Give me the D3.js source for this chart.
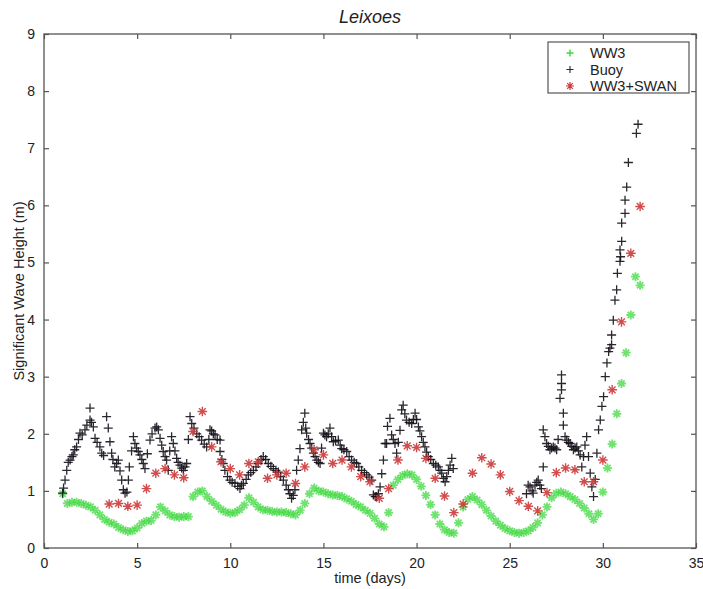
<!DOCTYPE html>
<html>
<head>
<meta charset="utf-8">
<script src="https://cdn.jsdelivr.net/npm/d3@7"></script>
<style>
  body { margin: 0; background: #fff; }
  svg text { font-family: "Liberation Sans", Arial, sans-serif; fill: #222; }
</style>
</head>
<body>
<div class="graph"></div>
<script>
// WW3 model, one value every 6 hours from day 1 to day 32
const ww3Days = d3.range(1, 32.01, 0.25);
const ww3Hs = [
  0.95, 0.78, 0.80, 0.80, 0.78, 0.75, 0.72, 0.66, 0.58, 0.50, 0.45, 0.42,
  0.36, 0.32, 0.29, 0.30, 0.35, 0.43, 0.47, 0.48, 0.58, 0.72, 0.65, 0.58,
  0.55, 0.54, 0.55, 0.55, 0.90, 0.98, 1.00, 0.90, 0.82, 0.75, 0.68, 0.63,
  0.61, 0.62, 0.67, 0.75, 0.88, 0.80, 0.72, 0.67, 0.66, 0.64, 0.63, 0.63,
  0.62, 0.60, 0.58, 0.66, 0.78, 0.95, 1.05, 1.00, 0.98, 0.95, 0.93, 0.92,
  0.90, 0.86, 0.82, 0.76, 0.72, 0.66, 0.61, 0.52, 0.42, 0.37, 0.62, 1.10,
  1.20, 1.27, 1.30, 1.28, 1.20, 1.08, 0.92, 0.76, 0.58, 0.42, 0.32, 0.27,
  0.26, 0.44, 0.72, 0.85, 0.90, 0.84, 0.76, 0.66, 0.56, 0.47, 0.40, 0.34,
  0.30, 0.27, 0.26, 0.27, 0.30, 0.36, 0.44, 0.58, 0.72, 0.88, 0.96, 0.98,
  0.95, 0.90, 0.85, 0.78, 0.70, 0.60, 0.50, 0.60, 0.98, 1.40, 1.82, 2.35,
  2.88, 3.42, 4.08, 4.75, 4.60
];

// WW3+SWAN, every 12 hours
const swanDays = d3.range(3.5, 32.01, 0.5);
const swanHs = [
  0.77, 0.78, 0.73, 0.75, 1.04, 1.31, 1.39, 1.28, 1.23, 2.04, 2.39, 1.77,
  1.51, 1.39, 1.28, 1.48, 1.51, 1.22, 1.28, 1.31, 1.13, 1.42, 1.72, 1.63,
  1.48, 1.54, 1.42, 1.25, 1.16, 0.87, 1.04, 1.54, 1.79, 1.76, 1.57, 1.22,
  0.91, 0.62, 0.77, 1.31, 1.58, 1.47, 1.28, 0.99, 0.83, 0.73, 0.65, 0.97,
  1.32, 1.40, 1.37, 1.16, 1.16, 1.54, 2.77, 3.96, 5.16, 5.98
];

// Buoy record (irregular, gap between day 22 and 26)
const buoyDays = [
  1.00, 1.05, 1.13, 1.22, 1.30, 1.40, 1.50, 1.57, 1.65, 1.75, 1.85, 1.93, 2.05, 2.20, 2.30, 2.47, 2.47, 2.55, 2.65, 2.74,
  2.85, 3.00, 3.10, 3.20, 3.36, 3.45, 3.54, 3.63, 3.70, 3.80, 3.90, 3.99, 4.08, 4.17, 4.26, 4.35, 4.45, 4.53, 4.58, 4.70,
  4.80, 4.88, 4.97, 5.06, 5.15, 5.25, 5.33, 5.42, 5.55, 5.69, 5.80, 5.96, 6.05, 6.14, 6.23, 6.32, 6.40, 6.50, 6.58, 6.67,
  6.75, 6.85, 6.94, 7.03, 7.12, 7.20, 7.30, 7.39, 7.48, 7.57, 7.66, 7.75, 7.84, 7.93, 8.05, 8.20, 8.33, 8.46, 8.60, 8.73,
  8.85, 8.91, 9.00, 9.09, 9.18, 9.30, 9.45, 9.45, 9.55, 9.62, 9.71, 9.85, 9.98, 10.10, 10.25, 10.40, 10.52, 10.60, 10.70, 10.85,
  10.97, 11.10, 11.24, 11.38, 11.50, 11.65, 11.77, 11.90, 12.04, 12.18, 12.31, 12.45, 12.58, 12.70, 12.85, 13.00, 13.12, 13.20, 13.29, 13.38,
  13.47, 13.56, 13.65, 13.74, 13.83, 13.92, 14.00, 14.05, 14.10, 14.20, 14.28, 14.37, 14.46, 14.55, 14.64, 14.73, 14.82, 14.90, 15.00, 15.08,
  15.17, 15.26, 15.35, 15.44, 15.53, 15.65, 15.80, 15.90, 15.98, 16.10, 16.25, 16.38, 16.51, 16.65, 16.78, 16.90, 17.05, 17.20, 17.32, 17.45,
  17.59, 17.68, 17.78, 17.86, 17.95, 18.04, 18.13, 18.22, 18.31, 18.39, 18.44, 18.57, 18.66, 18.75, 18.84, 18.93, 19.02, 19.11, 19.20, 19.28,
  19.37, 19.46, 19.60, 19.74, 19.83, 19.92, 20.00, 20.10, 20.18, 20.27, 20.36, 20.45, 20.54, 20.63, 20.76, 20.90, 21.03, 21.17, 21.26, 21.35,
  21.44, 21.53, 21.62, 21.71, 21.80, 21.89, 21.97,
  25.90, 25.99, 26.09, 26.20, 26.26, 26.36, 26.45, 26.53, 26.62, 26.70, 26.80, 26.80, 26.89, 26.98, 27.07, 27.16, 27.25, 27.34, 27.43, 27.52,
  27.60, 27.70, 27.78, 27.78, 27.78, 27.88, 27.88, 27.97, 28.06, 28.15, 28.24, 28.33, 28.42, 28.51, 28.60, 28.69, 28.78, 28.87, 28.96, 29.04,
  29.13, 29.23, 29.32, 29.41, 29.50, 29.59, 29.68, 29.77, 29.86, 29.95, 30.04, 30.13, 30.22, 30.31, 30.38, 30.47, 30.47, 30.56, 30.65, 30.74,
  30.78, 30.92, 30.95, 30.92, 31.01, 31.01, 31.19, 31.19, 31.28, 31.37, 31.80, 31.89
];
const buoyHs = [
  0.96, 1.05, 1.19, 1.36, 1.50, 1.54, 1.60, 1.63, 1.72, 1.77, 1.90, 2.01, 1.98, 2.07, 2.15, 2.45, 2.24, 2.20, 2.12, 1.92,
  1.85, 1.77, 1.66, 1.62, 2.30, 2.10, 1.86, 1.66, 1.55, 1.42, 1.48, 1.54, 1.35, 1.19, 1.02, 0.96, 0.98, 1.19, 1.42, 1.70,
  1.95, 1.83, 1.75, 1.69, 1.63, 1.55, 1.48, 1.39, 1.65, 1.89, 2.00, 2.10, 2.12, 2.07, 1.92, 1.80, 1.69, 1.60, 1.54, 1.36,
  1.70, 1.95, 1.83, 1.70, 1.57, 1.50, 1.45, 1.40, 1.36, 1.42, 1.48, 1.90, 2.30, 2.18, 2.10, 2.00, 1.95, 1.89, 1.82, 1.77,
  1.90, 2.07, 2.05, 2.00, 1.98, 1.90, 1.89, 1.69, 1.55, 1.48, 1.36, 1.25, 1.19, 1.15, 1.13, 1.08, 1.04, 1.10, 1.13, 1.20,
  1.28, 1.32, 1.36, 1.42, 1.48, 1.55, 1.60, 1.55, 1.48, 1.43, 1.39, 1.36, 1.33, 1.25, 1.19, 1.10, 1.02, 0.95, 0.87, 0.92,
  1.02, 1.36, 1.54, 1.74, 2.07, 2.20, 2.36, 2.10, 2.01, 1.90, 1.83, 1.75, 1.66, 1.60, 1.54, 1.50, 1.48, 1.75, 2.01, 1.98,
  1.95, 2.00, 2.10, 1.95, 1.86, 1.88, 1.89, 1.80, 1.74, 1.72, 1.69, 1.60, 1.54, 1.50, 1.48, 1.42, 1.36, 1.32, 1.28, 1.24,
  1.19, 0.93, 0.90, 0.90, 0.95, 1.07, 1.30, 1.54, 1.83, 1.83, 2.13, 2.27, 1.98, 1.90, 1.83, 1.66, 1.85, 2.06, 2.42, 2.50,
  2.35, 2.24, 2.20, 2.18, 2.25, 2.36, 2.25, 2.12, 2.05, 1.95, 1.85, 1.77, 1.68, 1.60, 1.55, 1.48, 1.45, 1.42, 1.36, 1.31,
  1.22, 1.16, 1.25, 1.36, 1.45, 1.57, 1.39,
  0.95, 1.10, 1.07, 1.00, 0.96, 1.10, 1.15, 1.19, 1.10, 1.04, 1.42, 2.07, 1.95, 1.83, 1.78, 1.72, 1.75, 1.77, 1.75, 1.72,
  1.90, 2.62, 3.03, 2.88, 2.77, 2.36, 2.15, 1.95, 1.89, 1.85, 1.83, 1.78, 1.72, 1.75, 1.77, 1.70, 1.63, 1.42, 1.60, 1.80,
  1.95, 1.60, 1.31, 1.07, 0.90, 1.20, 1.66, 2.07, 2.24, 2.48, 2.65, 3.00, 3.24, 3.44, 3.50, 3.56, 3.73, 3.99, 4.34, 4.52,
  4.81, 5.02, 5.10, 5.22, 5.37, 5.69, 5.86, 6.09, 6.32, 6.75, 7.26, 7.42
];

const xTicks = [0, 5, 10, 15, 20, 25, 30, 35];
const yTicks = [0, 1, 2, 3, 4, 5, 6, 7, 8, 9];
const seriesNames = ["WW3", "Buoy", "WW3+SWAN"];

const width = 703, height = 589;
const margin = { top: 34, right: 7, bottom: 41, left: 44 };

const svg = d3.select('.graph')
  .append('svg')
  .attr('width', width)
  .attr('height', height);

const x = d3.scaleLinear().domain([0, 35]).range([margin.left, width - margin.right]);
const y = d3.scaleLinear().domain([0, 9]).range([height - margin.bottom, margin.top]);

const axisColor = '#555';
const tickLen = 5;

// frame
svg.append('rect')
  .attr('x', x(0)).attr('y', y(9))
  .attr('width', x(35) - x(0)).attr('height', y(0) - y(9))
  .attr('fill', 'none').attr('stroke', axisColor).attr('stroke-width', 1.3);

// inward ticks on all four sides
const bottomAxis = svg.append('g')
  .attr('transform', `translate(0,${y(0)})`)
  .call(d3.axisBottom(x).tickValues(xTicks).tickSize(-tickLen).tickPadding(10).tickFormat(d3.format('d')));
const topAxis = svg.append('g')
  .attr('transform', `translate(0,${y(9)})`)
  .call(d3.axisTop(x).tickValues(xTicks).tickSize(-tickLen).tickFormat(''));
const leftAxis = svg.append('g')
  .attr('transform', `translate(${x(0)},0)`)
  .call(d3.axisLeft(y).tickValues(yTicks).tickSize(-tickLen).tickPadding(9).tickFormat(d3.format('d')));
const rightAxis = svg.append('g')
  .attr('transform', `translate(${x(35)},0)`)
  .call(d3.axisRight(y).tickValues(yTicks).tickSize(-tickLen).tickFormat(''));

[bottomAxis, topAxis, leftAxis, rightAxis].forEach(g => {
  g.select('.domain').remove();
  g.selectAll('line').attr('stroke', axisColor).attr('stroke-width', 1.2);
  g.selectAll('text').attr('font-size', 14).attr('fill', '#222')
    .attr('font-family', '"Liberation Sans", Arial, sans-serif');
});

// titles
svg.append('text')
  .attr('x', 370).attr('y', 23)
  .attr('text-anchor', 'middle')
  .attr('font-size', 18).attr('font-style', 'italic')
  .text('Leixoes');

svg.append('text')
  .attr('x', 370).attr('y', 583)
  .attr('text-anchor', 'middle')
  .attr('font-size', 14.5)
  .text('time (days)');

svg.append('text')
  .attr('transform', `translate(24,${(y(0) + y(9)) / 2}) rotate(-90)`)
  .attr('text-anchor', 'middle')
  .attr('font-size', 14.5)
  .text('Significant Wave Height (m)');

// marker shapes
const plusPath = s => `M${-s},0H${s}M0,${-s}V${s}`;
const starPath = s => {
  const d = s * 0.7;
  return `M${-s},0H${s}M0,${-s}V${s}M${-d},${-d}L${d},${d}M${-d},${d}L${d},${-d}`;
};

const markers = [
  { days: ww3Days, hs: ww3Hs, path: starPath(4.5), color: '#3fd83f', sw: 1.8, op: 0.75 },
  { days: buoyDays, hs: buoyHs, path: plusPath(4.5), color: '#140f18', sw: 1.3, op: 0.9 },
  { days: swanDays, hs: swanHs, path: starPath(4.8), color: '#cc3a3a', sw: 1.4, op: 0.9 }
];

markers.forEach(m => {
  svg.append('g')
    .selectAll('path')
    .data(m.days.map((d, i) => [d, m.hs[i]]))
    .enter()
    .append('path')
    .attr('transform', d => `translate(${x(d[0])},${y(d[1])})`)
    .attr('d', m.path)
    .attr('stroke', m.color)
    .attr('stroke-width', m.sw)
    .attr('stroke-opacity', m.op)
    .attr('fill', 'none');
});

// legend
const legend = svg.append('g');
legend.append('rect')
  .attr('x', 548).attr('y', 42).attr('width', 141).attr('height', 51)
  .attr('fill', '#fff').attr('stroke', axisColor).attr('stroke-width', 1.2);

const legendMarks = [
  { path: plusPath(3.5), color: '#3fd83f', sw: 1.4 },
  { path: plusPath(3.5), color: '#2a2040', sw: 1.1 },
  { path: starPath(4), color: '#cc3a3a', sw: 1.2 }
];
seriesNames.forEach((name, i) => {
  const ly = 53 + i * 16.5;
  legend.append('path')
    .attr('transform', `translate(570,${ly})`)
    .attr('d', legendMarks[i].path)
    .attr('stroke', legendMarks[i].color)
    .attr('stroke-width', legendMarks[i].sw)
    .attr('fill', 'none');
  legend.append('text')
    .attr('x', 590).attr('y', ly)
    .attr('dy', '0.35em')
    .attr('font-size', 14.5)
    .text(name);
});
</script>
</body>
</html>
